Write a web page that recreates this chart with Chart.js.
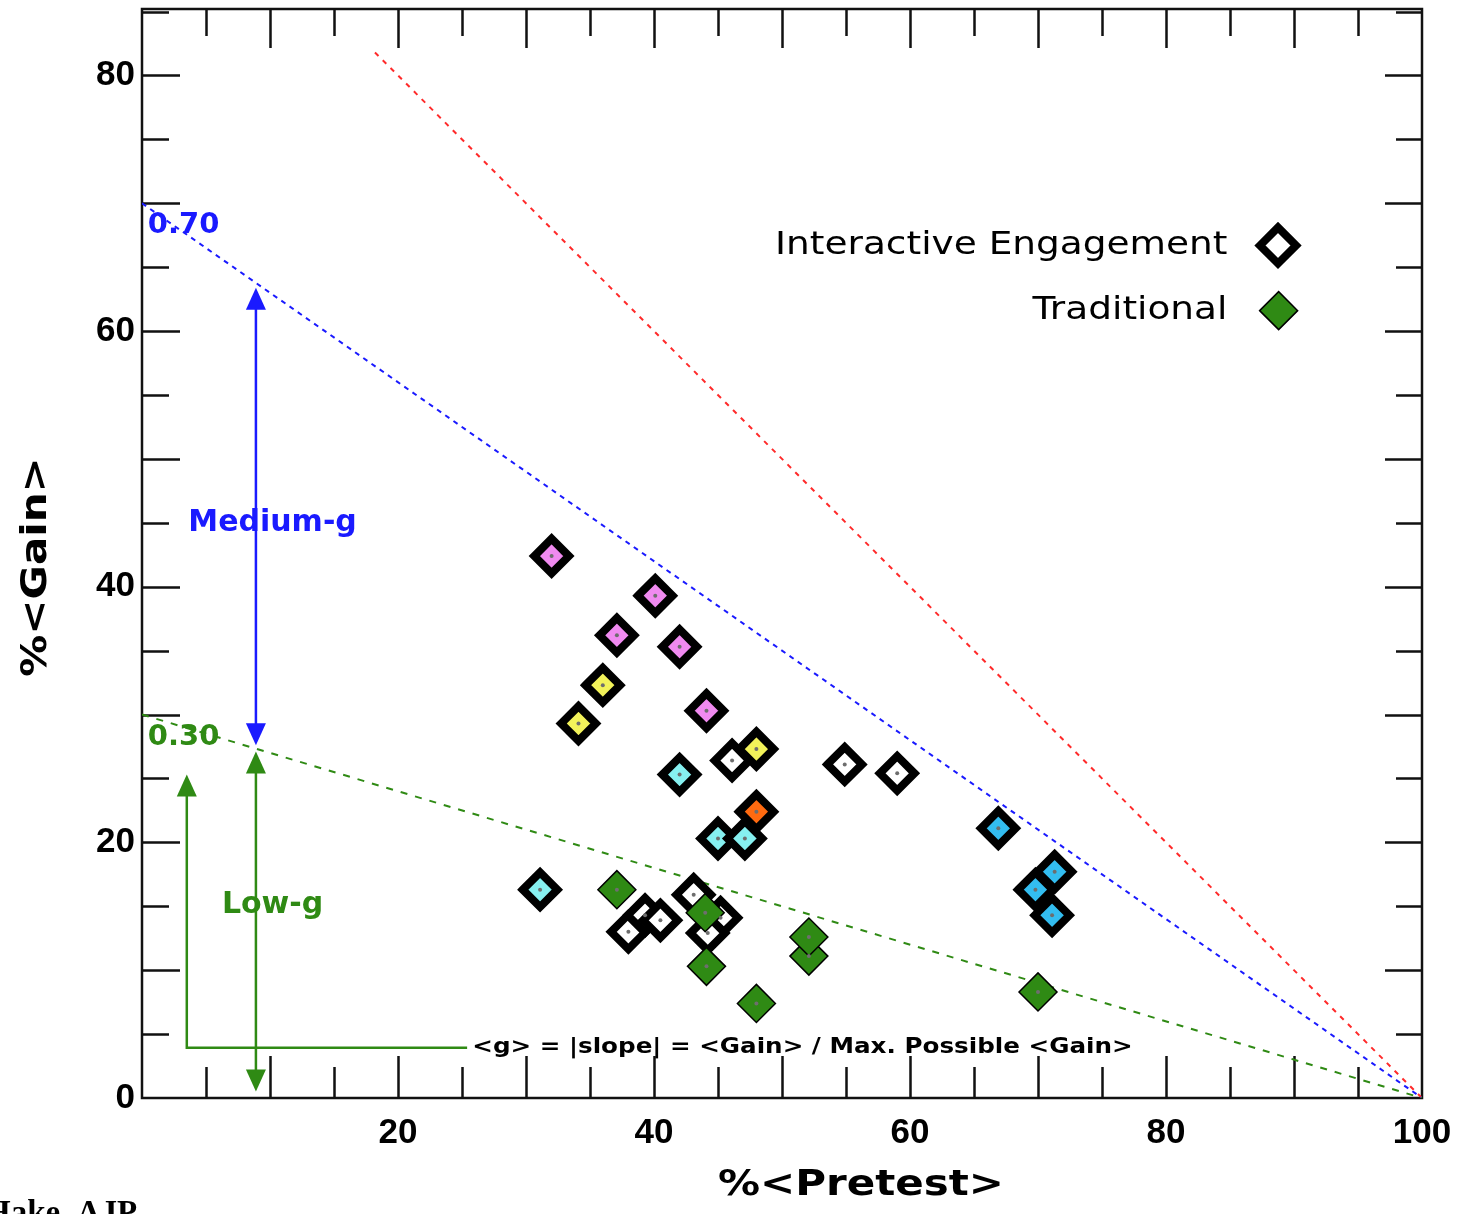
<!DOCTYPE html>
<html>
<head>
<meta charset="utf-8">
<title>%&lt;Gain&gt; vs %&lt;Pretest&gt;</title>
<script src="https://cdn.jsdelivr.net/npm/chart.js@4.4.1/dist/chart.umd.min.js"></script>
<style>
  html, body { margin: 0; padding: 0; background: #fff; }
  #wrap { width: 1463px; height: 1214px; position: relative; }
</style>
</head>
<body>
<div id="wrap"><canvas id="chart"></canvas></div>
<script>
// Interactive Engagement courses (%<Pretest>, %<Gain>, marker fill)
const ieX = [32.0, 40.1, 37.1, 42.0, 36.0, 34.1, 44.1, 46.1, 48.0, 42.0, 48.0, 45.0, 47.1, 31.1,
             54.9, 59.0, 66.9, 69.8, 71.3, 71.1,
             38.0, 39.3, 40.5, 43.1, 45.2, 44.2];
const ieY = [42.4, 39.3, 36.2, 35.3, 32.3, 29.3, 30.3, 26.4, 27.3, 25.3, 22.4, 20.3, 20.3, 16.3,
             26.1, 25.4, 21.1, 16.3, 17.7, 14.3,
             13.0, 14.3, 13.9, 15.9, 14.1, 12.9];
const ieFill = ['#f08af0', '#f08af0', '#f08af0', '#f08af0', '#f2f25a', '#f2f25a', '#f08af0', '#ffffff',
                '#f2f25a', '#86f0f0', '#ff6a10', '#86f0f0', '#86f0f0', '#86f0f0',
                '#ffffff', '#ffffff', '#33bdf0', '#33bdf0', '#33bdf0', '#33bdf0',
                '#ffffff', '#ffffff', '#ffffff', '#ffffff', '#ffffff', '#ffffff'];

// Traditional courses
const tradX = [37.1, 44.1, 52.1, 52.1, 48.0, 70.0, 44.0];
const tradY = [16.3, 10.3, 11.1, 12.6, 7.4, 8.3, 14.5];

// <g> reference lines: 1.0 (red), 0.70 (blue), 0.30 (green)
const gOneX = [18.2, 100];
const gOneY = [81.8, 0];
const gHighX = [0, 100];
const gHighY = [70, 0];
const gLowX = [0, 100];
const gLowY = [30, 0];

// axis tick labels
const xTickLabels = [20, 40, 60, 80, 100];
const yTickLabels = [0, 20, 40, 60, 80];

const toPts = (xs, ys) => xs.map((x, i) => ({ x: x, y: ys[i] }));

const BLUE = '#1a1aff';
const GREEN = '#2f8a14';
const RED = '#ff2a2a';

function arrowHead(ctx, x, y, dir, color) {
  // tip at (x, y); dir -1 points up, +1 points down
  ctx.fillStyle = color;
  ctx.beginPath();
  ctx.moveTo(x, y);
  ctx.lineTo(x - 10, y - dir * 22);
  ctx.lineTo(x + 10, y - dir * 22);
  ctx.closePath();
  ctx.fill();
}

function diamond(ctx, x, y, r, fill, stroke, lw) {
  ctx.beginPath();
  ctx.moveTo(x - r, y);
  ctx.lineTo(x, y - r);
  ctx.lineTo(x + r, y);
  ctx.lineTo(x, y + r);
  ctx.closePath();
  ctx.fillStyle = fill;
  ctx.fill();
  ctx.lineWidth = lw;
  ctx.strokeStyle = stroke;
  ctx.lineJoin = 'miter';
  ctx.stroke();
}

// the original uses a wide bitmap font, so text is stretched sideways
function wideText(ctx, text, x, y, sx, rot) {
  ctx.save();
  ctx.translate(x, y);
  if (rot) ctx.rotate(rot);
  ctx.scale(sx, 1);
  ctx.fillText(text, 0, 0);
  ctx.restore();
}

const framePlugin = {
  id: 'frame',
  beforeDatasetsDraw(chart) {
    const { ctx, chartArea: a, scales: { x, y } } = chart;
    ctx.save();
    ctx.strokeStyle = '#111';
    ctx.lineWidth = 2.5;
    ctx.strokeRect(a.left, a.top, a.right - a.left, a.bottom - a.top);
    ctx.beginPath();
    for (let v = 5; v < 100; v += 5) {
      const p = Math.round(x.getPixelForValue(v)) + 0.5;
      const major = v % 10 === 0;
      ctx.moveTo(p, a.bottom); ctx.lineTo(p, a.bottom - (major ? 42 : 31));
      ctx.moveTo(p, a.top); ctx.lineTo(p, a.top + (major ? 39 : 27));
    }
    for (let v = 5; v <= 85; v += 5) {
      const p = Math.round(y.getPixelForValue(v)) + 0.5;
      const major = v % 10 === 0;
      ctx.moveTo(a.left, p); ctx.lineTo(a.left + (major ? 38 : 27), p);
      ctx.moveTo(a.right, p); ctx.lineTo(a.right - (major ? 37 : 26), p);
    }
    ctx.stroke();
    ctx.restore();
  }
};

const notesPlugin = {
  id: 'notes',
  afterDatasetsDraw(chart) {
    const { ctx, scales: { x, y } } = chart;
    const X = v => x.getPixelForValue(v);
    const Y = v => y.getPixelForValue(v);
    ctx.save();

    // grey centre dot in every marker
    chart.data.datasets.forEach((ds, i) => {
      if (!ds.centreDot) return;
      chart.getDatasetMeta(i).data.forEach(el => {
        ctx.beginPath();
        ctx.arc(el.x, el.y, 2, 0, Math.PI * 2);
        ctx.fillStyle = '#6e6e6e';
        ctx.fill();
      });
    });

    // Medium-g arrow (blue) between the 0.30 and 0.70 lines
    ctx.lineWidth = 2.5;
    ctx.strokeStyle = BLUE;
    ctx.beginPath();
    ctx.moveTo(X(8.9), Y(63.0)); ctx.lineTo(X(8.9), Y(28.0));
    ctx.stroke();
    arrowHead(ctx, X(8.9), Y(63.4), -1, BLUE);
    arrowHead(ctx, X(8.9), Y(27.6), 1, BLUE);

    // Low-g arrow (green)
    ctx.strokeStyle = GREEN;
    ctx.beginPath();
    ctx.moveTo(X(8.9), Y(26.7)); ctx.lineTo(X(8.9), Y(0.9));
    ctx.stroke();
    arrowHead(ctx, X(8.9), Y(27.1), -1, GREEN);
    arrowHead(ctx, X(8.9), Y(0.5), 1, GREEN);

    // L-shaped pointer to the formula
    ctx.beginPath();
    ctx.moveTo(X(25.4), Y(3.94));
    ctx.lineTo(X(3.5), Y(3.94));
    ctx.lineTo(X(3.5), Y(24.9));
    ctx.stroke();
    arrowHead(ctx, X(3.5), Y(25.3), -1, GREEN);

    // labels
    ctx.textBaseline = 'middle';
    ctx.font = 'bold 29px "DejaVu Sans"';
    ctx.textAlign = 'left';
    ctx.fillStyle = BLUE;
    ctx.fillText('0.70', X(0.45), Y(68.3));
    ctx.fillStyle = GREEN;
    ctx.fillText('0.30', X(0.45), Y(28.2));

    ctx.textAlign = 'center';
    ctx.font = 'bold 30px "DejaVu Sans"';
    ctx.fillStyle = BLUE;
    ctx.fillText('Medium-g', X(10.2), Y(45.0));
    ctx.fillStyle = GREEN;
    ctx.fillText('Low-g', X(10.2), Y(15.1));

    ctx.textAlign = 'left';
    ctx.font = 'bold 22px "DejaVu Sans"';
    ctx.fillStyle = '#000';
    wideText(ctx, '<g> = |slope| = <Gain> / Max. Possible <Gain>', X(25.8), Y(3.94), 1.12);

    // legend
    ctx.textAlign = 'right';
    ctx.font = '32px "DejaVu Sans"';
    ctx.fillStyle = '#000';
    wideText(ctx, 'Interactive Engagement', X(84.8), Y(66.7), 1.17);
    wideText(ctx, 'Traditional', X(84.8), Y(61.6), 1.17);
    diamond(ctx, X(88.75), Y(66.7), 18, '#fff', '#000', 8);
    diamond(ctx, X(88.8), Y(61.6), 19, GREEN, '#000', 1.5);

    // axis titles
    ctx.fillStyle = '#000';
    ctx.textAlign = 'center';
    ctx.font = 'bold 35px "DejaVu Sans"';
    wideText(ctx, '%<Pretest>', 861, 1186, 1.2);
    wideText(ctx, '%<Gain>', 37, 567, 1.2, -Math.PI / 2);

    // source note, cut by the page edge
    ctx.font = 'bold 33px "Liberation Serif"';
    ctx.textAlign = 'left';
    ctx.textBaseline = 'alphabetic';
    ctx.fillText('Hake, AJP', -15, 1223);
    ctx.restore();
  }
};

const xTickFont = { family: 'Liberation Sans', size: 35, weight: 'bold' };
// small lineHeight keeps the y axis from padding the top of the plot
const yTickFont = { family: 'Liberation Sans', size: 35, weight: 'bold', lineHeight: 0.45 };

new Chart(document.getElementById('chart'), {
  type: 'scatter',
  data: {
    datasets: [
      {
        label: 'Traditional',
        data: toPts(tradX, tradY),
        pointStyle: 'rectRot',
        pointRadius: 19,
        backgroundColor: GREEN,
        borderColor: '#000',
        borderWidth: 1.5,
        centreDot: true
      },
      {
        label: 'Interactive Engagement',
        data: toPts(ieX, ieY),
        pointStyle: 'rectRot',
        pointRadius: 17.3,
        backgroundColor: ieFill,
        borderColor: '#000',
        borderWidth: 8,
        centreDot: true
      },
      {
        type: 'line', label: 'g = 0.30', data: toPts(gLowX, gLowY),
        borderColor: GREEN, borderWidth: 2, borderDash: [7, 8], pointRadius: 0, fill: false
      },
      {
        type: 'line', label: 'g = 0.70', data: toPts(gHighX, gHighY),
        borderColor: BLUE, borderWidth: 2, borderDash: [5, 5], pointRadius: 0, fill: false
      },
      {
        type: 'line', label: 'g = 1.0', data: toPts(gOneX, gOneY),
        borderColor: RED, borderWidth: 2, borderDash: [5, 6], pointRadius: 0, fill: false
      }
    ]
  },
  options: {
    responsive: true,
    maintainAspectRatio: false,
    animation: false,
    events: [],
    layout: { autoPadding: false, padding: { left: 0, right: 41, top: 9, bottom: 0 } },
    plugins: { legend: { display: false }, tooltip: { enabled: false } },
    scales: {
      x: {
        type: 'linear', position: 'bottom', min: 0, max: 100,
        grid: { display: false, drawTicks: false },
        border: { display: false },
        afterBuildTicks: s => { s.ticks = xTickLabels.map(v => ({ value: v })); },
        afterFit: s => { s.height = 116; s.paddingLeft = 0; s.paddingRight = 0; },
        ticks: { font: xTickFont, color: '#000', padding: 14, maxRotation: 0, autoSkip: false }
      },
      y: {
        type: 'linear', position: 'left', min: 0, max: 85.2,
        grid: { display: false, drawTicks: false },
        border: { display: false },
        afterBuildTicks: s => { s.ticks = yTickLabels.map(v => ({ value: v })); },
        afterFit: s => { s.width = 142; s.paddingTop = 0; s.paddingBottom = 0; },
        ticks: { font: yTickFont, color: '#000', padding: 7, autoSkip: false }
      }
    }
  },
  plugins: [framePlugin, notesPlugin]
});
</script>
</body>
</html>
